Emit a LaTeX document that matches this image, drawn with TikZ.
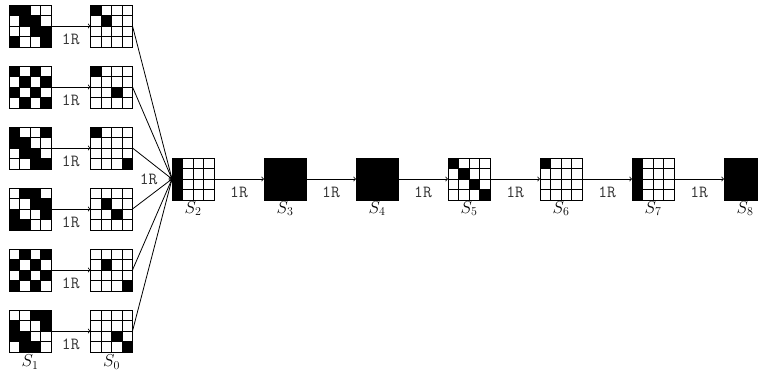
\documentclass[tikz,border=0pt]{standalone}
\usetikzlibrary{positioning}

\tikzset{
  boardbox/.style={draw, minimum size=42pt, inner sep=0pt, outer sep=0pt, line width=0.7pt},
  move/.style={font=\ttfamily\fontsize{17}{19}\selectfont, text=black!80},
  tag/.style={font=\fontsize{18}{20}\selectfont, inner sep=0.5pt},
  every path/.style={line width=0.8pt},
}

% name, centre, black cells as row/col
\newcommand{\board}[3]{%
  \node[boardbox] (#1) at (#2) {};
  \begin{scope}[shift={(#1.north west)}, x=10.5pt, y=-10.5pt]
    \foreach \r in {1,...,4}
      \foreach \c in {1,...,4}
        \draw (\c-1,\r-1) rectangle (\c,\r);
    \foreach \r/\c in {#3}
      \fill (\c-1,\r-1) rectangle (\c,\r);
  \end{scope}
}
\newcommand{\fullboard}[2]{%
  \node[boardbox, fill=black] (#1) at (#2) {};
}

\begin{document}
\begin{tikzpicture}[x=1pt, y=-1pt]
\useasboundingbox (0,0) rectangle (758,372);

% left column
\board{l1}{30,26}{1/1,1/2,2/2,2/3,3/3,3/4,4/1,4/4}
\board{l2}{30,87}{1/1,1/3,2/2,2/4,3/1,3/3,4/2,4/4}
\board{l3}{30,148}{1/1,1/4,2/1,2/2,3/2,3/3,4/3,4/4}
\board{l4}{30,209}{1/2,1/3,2/3,2/4,3/1,3/4,4/1,4/2}
\board{l5}{30,270}{1/2,1/4,2/1,2/3,3/2,3/4,4/1,4/3}
\board{l6}{30,331}{1/3,1/4,2/1,2/4,3/1,3/2,4/2,4/3}

% right column
\board{r1}{111.5,26}{1/1,2/2}
\board{r2}{111.5,87}{1/1,3/3}
\board{r3}{111.5,148}{1/1,4/4}
\board{r4}{111.5,209}{2/2,3/3}
\board{r5}{111.5,270}{2/2,4/4}
\board{r6}{111.5,331}{3/3,4/4}

% chain
\board{S2}{193,179}{1/1,2/1,3/1,4/1}
\fullboard{S3}{285,179}
\fullboard{S4}{377,179}
\board{S5}{469,179}{1/1,2/2,3/3,4/4}
\board{S6}{561,179}{1/1}
\board{S7}{653,179}{1/1,2/1,3/1,4/1}
\fullboard{S8}{745,179}

\foreach \i in {1,...,6}{
  \draw[->] (l\i) -- node[move, below=4pt] {1R} (r\i);
  \draw[->] (r\i.east) -- (S2.west);
}
\node[move, left=11pt of S2] {1R};

\foreach \u/\v in {2/3,3/4,4/5,5/6,6/7,7/8}{
  \draw[->] (S\u) -- node[move, below=4pt] {1R} (S\v);
}

\foreach \i in {2,...,8}
  \node[tag, below=0.5pt of S\i] {$S_\i$};
\node[tag, below=2pt of l6] {$S_1$};
\node[tag, below=2pt of r6] {$S_0$};

\end{tikzpicture}
\end{document}
